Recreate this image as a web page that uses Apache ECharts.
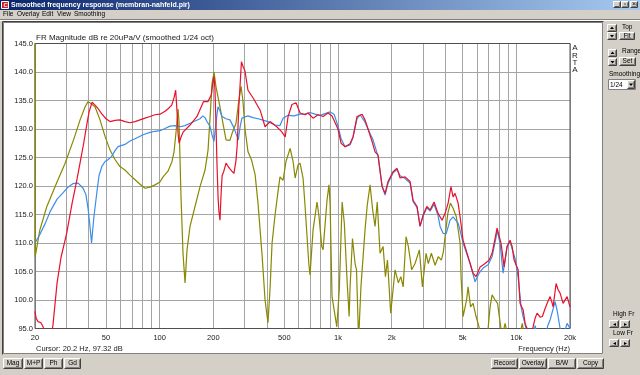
<!DOCTYPE html>
<html><head><meta charset="utf-8">
<script src="https://cdn.jsdelivr.net/npm/echarts@6.0.0/dist/echarts.min.js"></script>
<style>html,body{margin:0;padding:0;background:#d4d0c8;overflow:hidden}#c{width:640px;height:375px}</style>
</head><body><div id="c"></div><script>
// ---- axis ticks ----
const xGridValues = [20,30,40,50,60,70,80,90,100,200,300,400,500,600,700,800,900,1000,2000,3000,4000,5000,6000,7000,8000,9000,10000,20000];
const xLabelValues = [20,50,100,200,500,1000,2000,5000,10000,20000];
const yMin = 95, yMax = 145, yStep = 5;

// ---- red curve ----
const redHz = [20,20.3,20.8,21.6,22.2,22.8,23.4,24.2,24.7,25.2,
 26.6,28.0,30.1,32.3,34.3,36.0,37.5,38.9,40.2,41.8,
 43.4,45.1,47.5,50,52.7,56.2,59.9,63.9,68.2,72.8,
 77.6,82.8,88.3,94.2,100.4,107.2,112,116.9,120.4,123,
 125.2,127,128.5,131.8,135.7,148,162,176,186.6,195,
 198.5,201.8,204.2,206.9,209.6,212.6,215,218,221,224,
 229,235.6,241.5,247.8,254,261,268,272,278,287.5,
 293.1,300.8,312.8,335,366,390,416,454,484,506,
 525,552,582,613,654,679,725,773,825,880,
 926,1000,1041,1096,1169,1215,1279,1330,1365,1418,
 1474,1553,1614,1678,1767,1837,1909,2036,2144,2230,
 2378,2537,2636,2776,2886,3000,3150,3284,3458,3641,
 3836,3986,4146,4300,4420,4536,4716,4838,5029,5364,
 5722,5948,6265,6682,7036,7314,7604,7802,8218,8542,
 8878,9226,9470,9718,10232,10500,10914,11200,11494,11948,
 12262,12746,13080,13594,14000,14504,14880,15468,15872,16080,
 16712,17150,17600,18296,19264,20000];
const redDb = [98.0,96.8,96.2,96.0,95.3,94.0,92.5,92.5,94.0,95.5,
 103.0,107.5,111.7,117.0,121.0,124.5,127.5,130.5,133.0,134.7,
 134.2,133.6,132.6,131.8,131.3,131.5,131.6,131.3,131.1,131.3,
 131.6,131.9,132.2,132.5,132.6,133.1,133.6,134.2,135.5,136.8,
 133.0,129.0,127.5,128.6,129.5,130.7,132.2,134.8,134.8,136.0,
 138.0,139.2,137.0,131.0,124.0,118.0,115.5,114.0,118.5,121.8,
 122.6,124.0,123.5,123.0,122.6,122.2,124.5,127.0,133.9,141.8,
 141.0,140.2,136.8,135.4,133.3,130.4,131.3,130.4,129.5,128.6,
 132.2,134.3,134.6,132.8,132.5,132.8,131.9,132.5,132.2,132.8,
 132.3,130.0,127.5,126.9,127.4,128.6,132.2,132.4,132.6,131.6,
 130.0,127.8,126.0,125.4,119.9,118.7,120.8,122.5,123.1,121.4,
 121.6,120.8,117.5,116.4,112.9,114.9,116.4,115.8,117.2,115.2,
 114.0,115.2,117.0,119.9,118.1,118.7,117.0,114.6,110.5,107.6,
 104.7,104.1,105.8,106.4,107.0,108.2,110.8,112.6,109.9,105.8,
 109.4,110.5,109.4,107.0,105.3,99.4,98.3,95.9,95.0,94.0,
 94.5,96.8,97.7,97.0,97.1,98.5,99.4,100.6,99.5,98.8,
 102.9,101.8,101.2,99.4,100.6,98.8];

// ---- blue curve ----
const blueHz = [20,21.3,22.8,24.3,26.6,28.7,30.6,32.6,34.9,37.2,
 38.6,39.7,40.5,41.5,42.8,44.5,45.7,47.5,49.4,51.3,
 53.8,56.2,58.4,63.9,68.2,72.8,80.7,88.3,94.2,100.4,
 107.2,114.3,122,130.1,138.8,148,157.9,168.4,174.9,179.5,
 184.2,191.5,196.5,201.6,206.9,212.3,217.9,223.6,235.4,247.8,
 261,271,276,283,289.3,300.8,312.8,333.6,356,375,
 405,443.6,473,492,524.7,567,613,653.6,697,744,
 793,846,903,951,1000,1041,1096,1169,1215,1279,
 1330,1418,1513,1573,1678,1767,1837,1909,2036,2144,
 2230,2378,2537,2636,2776,2886,3000,3150,3284,3458,
 3641,3737,3885,4040,4252,4420,4716,4838,5029,5506,
 5872,6184,6512,6946,7314,7700,7802,8110,8430,8878,
 9226,9850,10232,10636,10914,11346,11948,12500,12746,13080,
 13594,14504,15000,15468,16500,16930,17600,18296,19264,20000];
const blueDb = [110.0,111.5,113.4,115.5,117.7,118.8,119.8,120.4,120.5,119.6,
 118.5,116.0,113.5,110.0,114.6,119.0,121.8,123.5,124.3,124.6,
 125.2,126.2,126.9,127.3,127.9,128.3,129.0,129.4,129.6,129.7,
 130.1,130.5,130.6,130.4,130.6,131.0,131.4,131.8,132.3,132.0,
 131.3,130.5,129.0,127.8,131.0,133.9,133.2,132.2,131.8,131.6,
 130.2,128.8,128.1,130.5,131.9,132.1,132.3,132.0,131.8,131.6,
 131.3,130.7,130.6,131.9,132.4,132.3,132.6,132.6,132.9,132.6,
 132.4,132.7,133.0,132.6,130.5,128.3,126.9,127.2,128.6,131.8,
 132.5,131.2,129.2,128.1,125.2,120.0,118.4,120.5,122.3,122.9,
 121.8,121.3,120.5,117.3,116.2,113.0,114.7,116.2,115.6,116.8,
 114.8,112.9,111.7,111.6,114.0,114.6,113.5,112.2,110.0,106.4,
 103.2,104.7,105.6,106.2,107.6,111.0,112.3,109.9,104.7,109.4,
 110.2,107.2,104.1,98.8,97.1,95.0,93.0,94.0,95.5,94.0,
 92.5,93.0,95.5,96.5,99.7,98.2,95.0,93.5,95.9,95.0];

// ---- olive curve ----
const oliveHz = [20,20.05,21.3,23.3,26.4,29.5,32.9,35.8,38.2,39.7,
 41.0,43.4,46.3,49.4,52.7,56.3,59.9,63.9,68.2,72.8,
 77.6,82.8,88.3,94.2,100.4,104.5,111.4,117.3,120.4,123.6,
 126.8,128.5,131.8,135.3,138.8,142.4,148,157.9,168.4,179.7,
 186.8,191.7,196.7,201.8,207,217.9,226.5,235.6,247.8,254.6,
 268,278,286,293,301,313,328,343,356,375,
 390,405,416,427,444,461,473,492,511,539,
 560,575,597,613,637,654,686,697,725,763,
 783,811,825,868,890,903,926,985,1017,1055,
 1085,1124,1155,1169,1206,1247,1270,1305,1345,1418,
 1460,1513,1565,1614,1660,1722,1790,1845,1895,1975,
 2090,2180,2250,2320,2408,2480,2590,2705,2860,2975,
 3118,3210,3340,3503,3650,3800,3900,3986,4130,4270,
 4420,4610,4838,4900,5029,5260,5364,5540,5722,5948,
 6104,6430,6900,7128,7314,7604,7850,8320,8650,8990,
 9700,10500,10800,11200,13000,20000];
const oliveDb = [160,107.6,112.3,116.4,120.5,124.0,128.1,131.6,133.9,134.8,
 134.5,133.9,131.6,128.7,126.3,124.6,123.4,122.8,121.9,121.1,
 120.3,119.6,119.8,120.2,120.7,121.6,122.6,124.3,126.0,129.5,
 133.5,131.0,118.0,108.0,103.0,108.8,112.9,116.4,119.9,122.8,
 126.3,132.0,138.0,140.0,137.4,133.9,131.0,128.1,128.0,129.2,
 131.0,135.0,137.5,135.0,130.0,126.0,124.5,122.0,117.0,108.0,
 100.0,96.0,102.0,110.0,115.0,119.0,121.6,121.0,124.3,126.6,
 124.3,121.4,123.7,124.0,121.4,116.4,106.4,104.4,112.3,117.2,
 114.6,109.4,108.8,117.5,120.2,117.0,100.6,95.3,101.8,117.2,
 113.5,103.5,97.1,102.3,110.8,106.4,105.3,93.0,102.3,112.3,
 116.7,120.2,115.8,112.9,117.2,108.2,109.4,104.1,107.0,97.7,
 105.3,103.0,104.1,102.3,111.1,109.4,105.3,106.4,108.8,102.3,
 108.2,106.4,108.2,106.1,107.6,107.0,108.5,111.1,115.2,117.0,
 116.1,114.6,110.0,104.1,97.1,100.0,102.3,98.8,99.4,97.1,
 95.9,93.0,94.0,98.8,100.9,100.0,99.4,93.5,95.9,93.5,
 93.5,94.0,95.9,93.0,90.0,88.0];

const zip = (a, b) => a.map((v, i) => [v, b[i]]);

// ---- window chrome helpers ----
const FONT = '"Liberation Sans", Arial, sans-serif';
const G = [];
function rect(x, y, w, h, fill, stroke, z) {
  G.push({type:'rect', silent:true, z: z||0, shape:{x:x, y:y, width:w, height:h}, style:{fill:fill||'none', stroke:stroke||null, lineWidth:1}});
}
function line(pts, color, z) {
  G.push({type:'polyline', silent:true, z: z||1, shape:{points:pts}, style:{stroke:color, lineWidth:1, fill:null}});
}
function txt(x, y, t, o) {
  o = o || {};
  G.push({type:'text', silent:true, z: o.z||3, x:x, y:y, style:{text:t, font:(o.weight||'normal')+' '+(o.size||7)+'px '+FONT, fill:o.fill||'#000', align:o.align||'left', verticalAlign:'middle'}});
}
function btn(x, y, w, h, label, o) {
  rect(x, y, w, h, '#d4d0c8', null, 1);
  line([[x+0.5, y+h-0.5],[x+0.5, y+0.5],[x+w-0.5, y+0.5]], '#ffffff', 2);
  line([[x+0.5, y+h-0.5],[x+w-0.5, y+h-0.5],[x+w-0.5, y+0.5]], '#404040', 2);
  line([[x+1.5, y+h-1.5],[x+w-1.5, y+h-1.5],[x+w-1.5, y+1.5]], '#808080', 2);
  if (label) txt(x + w/2, y + h/2, label, Object.assign({align:'center', size:6.5}, o||{}));
}
function tri(cx, cy, up) {
  const d = up ? -1 : 1;
  G.push({type:'polygon', silent:true, z:3, shape:{points:[[cx-2, cy-d*1],[cx+2, cy-d*1],[cx, cy+d*1.5]]}, style:{fill:'#000'}});
}

// title bar
G.push({type:'rect', silent:true, z:0, shape:{x:0, y:0, width:640, height:10},
  style:{fill:new echarts.graphic.LinearGradient(0,0,1,0,[{offset:0,color:'#0a246a'},{offset:1,color:'#a6caf0'}])}});
rect(1.5, 1.5, 7, 7, '#d02020', '#ffffff', 1);
txt(3.5, 5, 'C', {size:6, fill:'#fff', weight:'bold'});
txt(11, 5, 'Smoothed frequency response (membran-nahfeld.pir)', {size:7, weight:'bold', fill:'#ffffff'});
btn(613, 1, 8, 7, '_', {size:6});
btn(621, 1, 8, 7, '▫', {size:6});
btn(630, 1, 8, 7, '×', {size:7});
// menu
[['File',3],['Overlay',17],['Edit',42],['View',57],['Smoothing',74]].forEach(m => txt(m[1], 14.5, m[0], {size:6.5}));
line([[0, 20.5],[640, 20.5]], '#ffffff', 1);
line([[0, 19.5],[640, 19.5]], '#808080', 1);
// white plot panel
rect(3.5, 22.5, 599, 331, '#ffffff', '#808080', 0);
line([[2.5, 354.5],[2.5, 21.5],[603.5, 21.5]], '#404040', 1);
// right panel controls
btn(607, 24, 10, 8, ''); tri(612, 28, true);
btn(607, 32, 10, 8, ''); tri(612, 36, false);
txt(622, 27, 'Top', {size:6.5});
btn(619, 32, 16, 8, 'Fit');
btn(608, 49, 9, 8, ''); tri(612.5, 53, true);
btn(608, 58, 9, 8, ''); tri(612.5, 62, false);
txt(622, 51, 'Range', {size:6.5});
btn(619, 57, 17, 9, 'Set');
txt(609, 74, 'Smoothing', {size:6.5});
rect(608.5, 79.5, 27, 10, '#ffffff', '#808080', 1);
txt(610, 85, '1/24', {size:6.5});
btn(627, 80, 8, 9, ''); tri(631, 84.5, false);
txt(613, 314, 'High Fr', {size:6.5});
btn(609, 320, 10, 8, '◂', {size:6}); btn(620, 320, 10, 8, '▸', {size:6});
txt(613, 333, 'Low Fr', {size:6.5});
btn(609, 339, 10, 8, '◂', {size:6}); btn(620, 339, 10, 8, '▸', {size:6});
// bottom buttons
btn(3, 358, 20, 11, 'Mag'); btn(24, 358, 19, 11, 'M+P'); btn(44, 358, 19, 11, 'Ph'); btn(64, 358, 17, 11, 'Gd');
btn(491, 358, 27, 11, 'Record'); btn(519, 358, 28, 11, 'Overlay'); btn(548, 358, 28, 11, 'B/W'); btn(577, 358, 27, 11, 'Copy');
// plot texts
txt(36, 38, 'FR Magnitude dB re 20uPa/V (smoothed 1/24 oct)', {size:8, fill:'#202020'});
txt(36, 349, 'Cursor: 20.2 Hz, 97.32 dB', {size:7.5, fill:'#202020'});
txt(570, 349, 'Frequency (Hz)', {size:7.5, fill:'#202020', align:'right'});
['A','R','T','A'].forEach((c, i) => txt(575, 48 + i*7.4, c, {size:8, fill:'#202020', align:'center'}));

const chart = echarts.init(document.getElementById('c'), null, {renderer:'canvas'});
chart.setOption({
  backgroundColor:'#d4d0c8',
  animation:false,
  graphic: G,
  grid:{left:35, right:70, top:43.5, bottom:46.5, show:true, borderColor:'#505050', borderWidth:1, backgroundColor:'transparent', z:1},
  xAxis:{type:'log', logBase:10, min:20, max:20000,
    axisLine:{show:false},
    axisTick:{show:false, customValues:xGridValues},
    splitLine:{show:true, lineStyle:{color:'#a4a4a4', width:1}},
    axisLabel:{customValues:xLabelValues, margin:5, fontSize:7.5, color:'#202020', fontFamily:FONT,
      formatter: v => { const r = Math.round(v); return r >= 1000 ? (r/1000)+'k' : String(r); }}
  },
  yAxis:{type:'value', min:yMin, max:yMax, interval:yStep,
    axisLine:{show:false}, axisTick:{show:false},
    splitLine:{show:true, lineStyle:{color:'#a4a4a4', width:1}},
    axisLabel:{margin:2, fontSize:7.5, color:'#202020', fontFamily:FONT, formatter: v => v.toFixed(1)}
  },
  series:[
    {type:'line', name:'olive', data:zip(oliveHz, oliveDb), showSymbol:false, clip:true, lineStyle:{color:'#8a8800', width:1.2}, z:3},
    {type:'line', name:'blue', data:zip(blueHz, blueDb), showSymbol:false, clip:true, lineStyle:{color:'#3a8ee8', width:1.2}, z:4},
    {type:'line', name:'red', data:zip(redHz, redDb), showSymbol:false, clip:true, lineStyle:{color:'#e8102a', width:1.2}, z:5}
  ]
});
</script></body></html>
